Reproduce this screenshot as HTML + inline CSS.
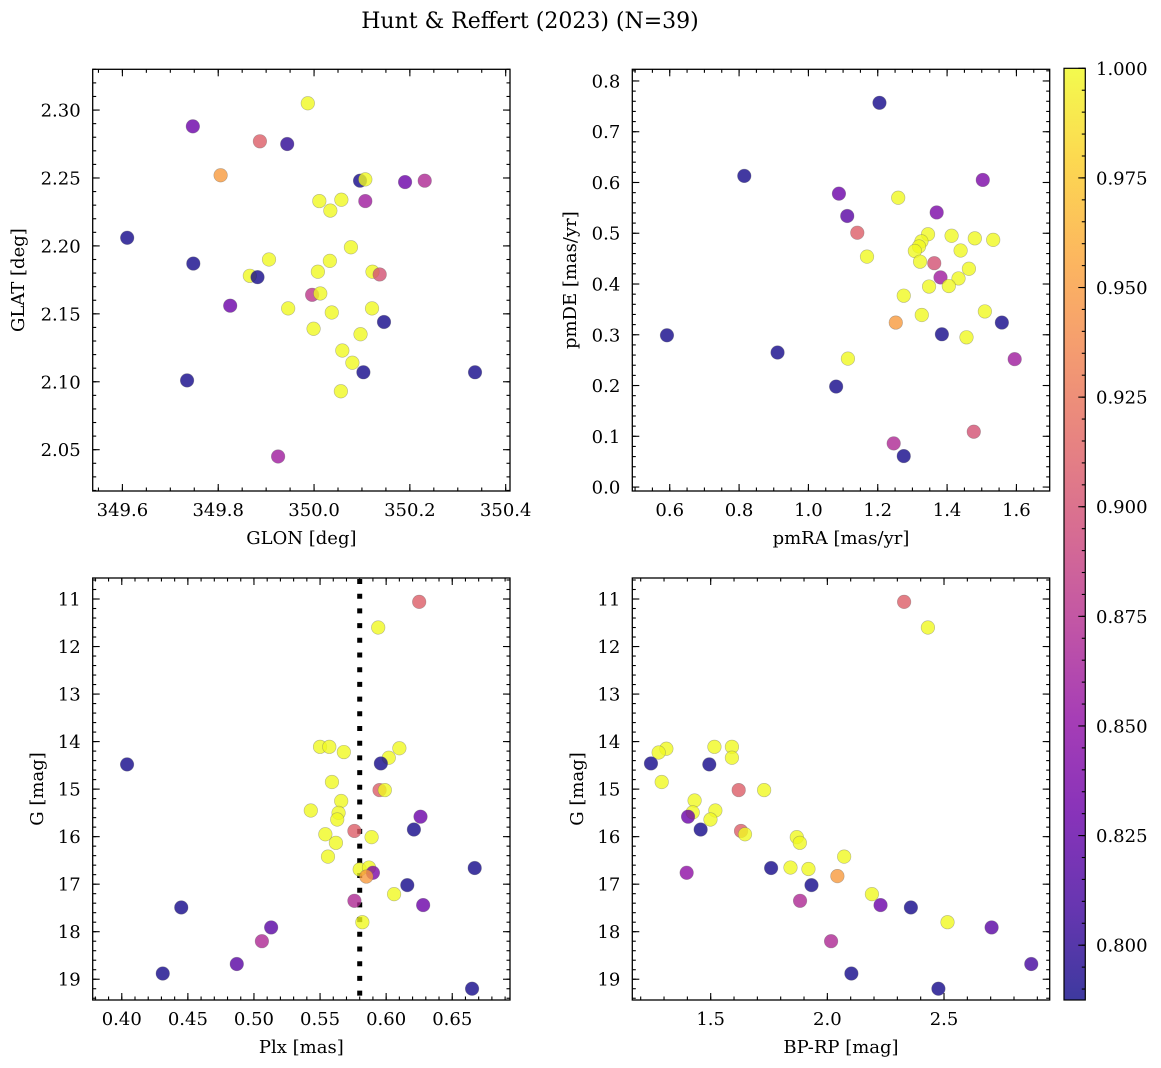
<!DOCTYPE html>
<html><head><meta charset="utf-8"><style>
html,body{margin:0;padding:0;background:#fff;}
svg{display:block;font-family:"DejaVu Serif","Liberation Serif",serif;}
</style></head><body>
<svg id="fig" width="1161" height="1068" viewBox="0 0 1161 1068" xmlns="http://www.w3.org/2000/svg">
<defs>
<linearGradient id="plasmaGrad" x1="0" y1="1" x2="0" y2="0">
<stop offset="0" stop-color="#0d0887"/><stop offset="0.1" stop-color="#41049d"/><stop offset="0.2" stop-color="#6a00a8"/><stop offset="0.3" stop-color="#8f0da4"/><stop offset="0.4" stop-color="#b12a90"/><stop offset="0.5" stop-color="#cc4778"/><stop offset="0.6" stop-color="#e16462"/><stop offset="0.7" stop-color="#f2844b"/><stop offset="0.8" stop-color="#fca636"/><stop offset="0.9" stop-color="#fcce25"/><stop offset="1" stop-color="#f0f921"/>
</linearGradient>
</defs>
<text x="530" y="28" font-size="22" text-anchor="middle">Hunt &amp; Reffert (2023) (N=39)</text>
</svg>
<script>
// ---- data ----
const glon = [349.747,349.887,349.944,349.805,349.987,350.096,350.107,350.190,350.231,350.107,350.011,350.057,350.034,349.610,349.748,350.077,349.906,349.866,349.882,350.033,350.008,350.122,350.137,349.825,349.996,350.013,349.946,350.037,350.121,350.146,349.999,350.097,350.059,350.080,350.056,350.103,349.735,350.336,349.925];
const glat = [2.288,2.277,2.275,2.252,2.305,2.248,2.249,2.247,2.248,2.233,2.233,2.234,2.226,2.206,2.187,2.199,2.190,2.178,2.177,2.189,2.181,2.181,2.179,2.156,2.164,2.165,2.154,2.151,2.154,2.144,2.139,2.135,2.123,2.114,2.093,2.107,2.101,2.107,2.045];
const probA = [0.83,0.91,0.80,0.95,1,0.79,1,0.83,0.87,0.86,1,1,1,0.79,0.79,1,1,1,0.79,1,1,1,0.90,0.83,0.88,1,1,1,1,0.79,1,1,1,1,1,0.79,0.79,0.79,0.86];

const pmra = [1.205,0.815,1.088,1.503,1.112,1.259,1.370,1.141,1.345,1.413,1.480,1.533,1.326,1.319,1.307,1.439,1.169,1.322,1.363,1.463,1.381,1.433,1.348,1.405,1.275,1.509,1.327,1.558,1.252,1.385,0.592,1.456,0.911,1.114,1.595,1.080,1.477,1.246,1.275];
const pmde = [0.757,0.613,0.578,0.605,0.534,0.570,0.541,0.501,0.498,0.495,0.490,0.487,0.484,0.474,0.465,0.466,0.454,0.444,0.441,0.430,0.413,0.411,0.395,0.396,0.377,0.346,0.339,0.324,0.324,0.301,0.299,0.295,0.265,0.253,0.252,0.198,0.109,0.086,0.061];
const probB = [0.79,0.79,0.83,0.84,0.82,1,0.84,0.91,1,1,1,1,1,1,1,1,1,1,0.90,1,0.86,1,1,1,1,1,1,0.79,0.95,0.79,0.79,1,0.79,1,0.86,0.79,0.90,0.87,0.79];

const plx = [0.625,0.594,0.550,0.557,0.568,0.610,0.602,0.404,0.596,0.559,0.595,0.599,0.566,0.543,0.564,0.563,0.626,0.554,0.576,0.621,0.589,0.562,0.556,0.667,0.580,0.587,0.590,0.585,0.616,0.606,0.576,0.628,0.445,0.582,0.513,0.506,0.487,0.431,0.665];
const gmag = [11.06,11.60,14.11,14.11,14.22,14.14,14.34,14.48,14.46,14.85,15.02,15.02,15.25,15.45,15.50,15.64,15.58,15.95,15.88,15.85,16.01,16.13,16.42,16.66,16.69,16.65,16.76,16.84,17.02,17.21,17.35,17.44,17.49,17.80,17.91,18.20,18.68,18.88,19.20];
const probC = [0.91,1,1,1,1,1,1,0.79,0.79,1,0.91,1,1,1,1,1,0.83,1,0.91,0.79,1,1,1,0.79,1,1,0.84,0.95,0.79,1,0.87,0.83,0.79,1,0.82,0.87,0.82,0.79,0.79];

const bprp = [2.329,2.431,1.310,1.277,1.516,1.591,1.591,1.244,1.494,1.290,1.620,1.729,1.431,1.520,1.423,1.403,1.499,1.457,1.630,1.647,1.869,1.882,2.072,1.759,1.842,1.919,1.397,2.043,1.932,2.191,1.883,2.228,2.358,2.515,2.704,2.016,2.874,2.103,2.476];
const gmag4 = [11.06,11.60,14.15,14.23,14.11,14.11,14.34,14.46,14.48,14.85,15.02,15.02,15.24,15.45,15.49,15.58,15.64,15.85,15.88,15.95,16.01,16.13,16.42,16.66,16.65,16.68,16.76,16.83,17.02,17.21,17.35,17.44,17.49,17.80,17.91,18.20,18.68,18.88,19.20];
const probD = [0.91,1,1,1,1,1,1,0.79,0.79,1,0.91,1,1,1,1,0.83,1,0.79,0.91,1,1,1,1,0.79,1,1,0.85,0.95,0.79,1,0.87,0.83,0.79,1,0.82,0.87,0.81,0.79,0.79];

const plxRef = [0.580];

const p1XTicks = [349.6,349.8,350.0,350.2,350.4];
const p1XLabels = ["349.6","349.8","350.0","350.2","350.4"];
const p1YTicks = [2.05,2.10,2.15,2.20,2.25,2.30];
const p1YLabels = ["2.05","2.10","2.15","2.20","2.25","2.30"];
const p2XTicks = [0.6,0.8,1.0,1.2,1.4,1.6];
const p2XLabels = ["0.6","0.8","1.0","1.2","1.4","1.6"];
const p2YTicks = [0.0,0.1,0.2,0.3,0.4,0.5,0.6,0.7,0.8];
const p2YLabels = ["0.0","0.1","0.2","0.3","0.4","0.5","0.6","0.7","0.8"];
const p3XTicks = [0.40,0.45,0.50,0.55,0.60,0.65];
const p3XLabels = ["0.40","0.45","0.50","0.55","0.60","0.65"];
const gTicks = [11,12,13,14,15,16,17,18,19];
const gLabels = ["11","12","13","14","15","16","17","18","19"];
const p4XTicks = [1.5,2.0,2.5];
const p4XLabels = ["1.5","2.0","2.5"];
const cbTicks = [0.800,0.825,0.850,0.875,0.900,0.925,0.950,0.975,1.000];
const cbLabels = ["0.800","0.825","0.850","0.875","0.900","0.925","0.950","0.975","1.000"];

// ---- rendering ----
const NS = "http://www.w3.org/2000/svg";
const svg = document.getElementById("fig");
function mk(tag, attrs, parent){ const e=document.createElementNS(NS,tag); for(const k in attrs) e.setAttribute(k,attrs[k]); (parent||svg).appendChild(e); return e; }

const plasma = ["#0d0887","#41049d","#6a00a8","#8f0da4","#b12a90","#cc4778","#e16462","#f2844b","#fca636","#fcce25","#f0f921"];
const VMIN = 0.7875, VMAX = 1.0;
function hex(h){return [parseInt(h.substr(1,2),16),parseInt(h.substr(3,2),16),parseInt(h.substr(5,2),16)];}
function cmap(v){
  let t=(v-VMIN)/(VMAX-VMIN); t=Math.max(0,Math.min(1,t));
  const f=t*10, i=Math.min(9,Math.floor(f)), r=f-i;
  const a=hex(plasma[i]), b=hex(plasma[i+1]);
  return "rgb("+a.map((c,k)=>Math.round(c+(b[k]-c)*r)).join(",")+")";
}

function panel(cfg){
  const g = mk("g",{});
  
  
  const sx = v => cfg.x0 + (v-cfg.xd[0])/(cfg.xd[1]-cfg.xd[0])*(cfg.x1-cfg.x0);
  const sy = cfg.yInv
    ? v => cfg.y0 + (v-cfg.yd[0])/(cfg.yd[1]-cfg.yd[0])*(cfg.y1-cfg.y0)
    : v => cfg.y1 - (v-cfg.yd[0])/(cfg.yd[1]-cfg.yd[0])*(cfg.y1-cfg.y0);
  const tk = mk("g",{stroke:"#000","stroke-width":"1.1"},g);
  
  
  const lo=Math.min(cfg.xd[0],cfg.xd[1]), hi=Math.max(cfg.xd[0],cfg.xd[1]);
  for(let k=Math.ceil(lo/cfg.xm-1e-9);k*cfg.xm<=hi+1e-9;k++){const X=sx(k*cfg.xm);
    mk("line",{x1:X,x2:X,y1:cfg.y1,y2:cfg.y1-3.5},tk); mk("line",{x1:X,x2:X,y1:cfg.y0,y2:cfg.y0+3.5},tk);}
  const ylo=Math.min(cfg.yd[0],cfg.yd[1]), yhi=Math.max(cfg.yd[0],cfg.yd[1]);
  for(let k=Math.ceil(ylo/cfg.ym-1e-9);k*cfg.ym<=yhi+1e-9;k++){const Y=sy(k*cfg.ym);
    mk("line",{x1:cfg.x0,x2:cfg.x0+3.5,y1:Y,y2:Y},tk); mk("line",{x1:cfg.x1,x2:cfg.x1-3.5,y1:Y,y2:Y},tk);}
  cfg.xt.forEach((v,i)=>{const X=sx(v);
    mk("line",{x1:X,x2:X,y1:cfg.y1,y2:cfg.y1-7},tk); mk("line",{x1:X,x2:X,y1:cfg.y0,y2:cfg.y0+7},tk);
    const t=mk("text",{x:X,y:cfg.y1+25,"font-size":"18","text-anchor":"middle"},g); t.textContent=cfg.xl[i];
    
    
  });
  cfg.yt.forEach((v,i)=>{const Y=sy(v);
    mk("line",{x1:cfg.x0,x2:cfg.x0+7,y1:Y,y2:Y},tk); mk("line",{x1:cfg.x1,x2:cfg.x1-7,y1:Y,y2:Y},tk);
    const t=mk("text",{x:cfg.x0-12,y:Y+6.5,"font-size":"18","text-anchor":"end"},g); t.textContent=cfg.yl[i];
    
    
  });
  if(cfg.vline){ cfg.vline.forEach(v=>{const X=sx(v);
    const l=mk("line",{x1:X,x2:X,y1:cfg.y0+1,y2:cfg.y1,stroke:"#000","stroke-width":"5","stroke-dasharray":"5 9.7"},g);
    
    
  });}
  const pts = mk("g",{},g);
  
  
  cfg.xs.forEach((v,i)=>{
    const c=mk("circle",{cx:sx(v),cy:sy(cfg.ys[i]),r:6.8,fill:cmap(cfg.cs[i]),"fill-opacity":"0.8",stroke:"#666","stroke-opacity":"0.45","stroke-width":"0.6"},pts);
    
    
  });
  const fr=mk("rect",{x:cfg.x0,y:cfg.y0,width:cfg.x1-cfg.x0,height:cfg.y1-cfg.y0,fill:"none",stroke:"#000","stroke-width":"1.3"},g);
  
  
  const xlab=mk("text",{x:(cfg.x0+cfg.x1)/2,y:cfg.y1+53,"font-size":"18","text-anchor":"middle"},g); xlab.textContent=cfg.xlabel;
  
  
  const cy=(cfg.y0+cfg.y1)/2;
  const ylab=mk("text",{x:cfg.ylx,y:cy,"font-size":"18","text-anchor":"middle",transform:"rotate(-90 "+cfg.ylx+" "+cy+")"},g); ylab.textContent=cfg.ylabel;
  
  
}

panel({name:"glon-glat-panel",x0:92.7,x1:510,y0:69.3,y1:491,xd:[349.538,350.409],yd:[2.0196,2.330],
  xt:p1XTicks,xl:p1XLabels,yt:p1YTicks,yl:p1YLabels,xm:0.05,ym:0.01,xs:glon,ys:glat,cs:probA,
  xlabel:"GLON [deg]",ylabel:"GLAT [deg]",ylx:24});
panel({name:"proper-motion-panel",x0:632.3,x1:1049.7,y0:69.3,y1:491,xd:[0.492,1.696],yd:[-0.0078,0.823],
  xt:p2XTicks,xl:p2XLabels,yt:p2YTicks,yl:p2YLabels,xm:0.05,ym:0.02,xs:pmra,ys:pmde,cs:probB,
  xlabel:"pmRA [mas/yr]",ylabel:"pmDE [mas/yr]",ylx:576});
panel({name:"parallax-mag-panel",x0:92.7,x1:510,y0:578,y1:1000,xd:[0.378,0.6937],yd:[10.558,19.437],yInv:true,
  xt:p3XTicks,xl:p3XLabels,yt:gTicks,yl:gLabels,xm:0.01,ym:0.2,xs:plx,ys:gmag,cs:probC,vline:plxRef,
  xlabel:"Plx [mas]",ylabel:"G [mag]",ylx:43});
panel({name:"cmd-panel",x0:632.3,x1:1049.7,y0:578,y1:1000,xd:[1.164,2.953],yd:[10.558,19.437],yInv:true,
  xt:p4XTicks,xl:p4XLabels,yt:gTicks,yl:gLabels,xm:0.1,ym:0.2,xs:bprp,ys:gmag4,cs:probD,
  xlabel:"BP-RP [mag]",ylabel:"G [mag]",ylx:583});

(function(){
  const x0=1064,x1=1085.3,y0=68.3,y1=1000;
  const sy=v=>y1-(v-VMIN)/(VMAX-VMIN)*(y1-y0);
  const g=mk("g",{});
  
  
  const r=mk("rect",{x:x0,y:y0,width:x1-x0,height:y1-y0,fill:"url(#plasmaGrad)","fill-opacity":"0.8"},g);
  
  
  mk("rect",{x:x0,y:y0,width:x1-x0,height:y1-y0,fill:"none",stroke:"#000","stroke-width":"1.2"},g);
  for(let k=Math.ceil(VMIN/0.005-1e-9);k*0.005<=VMAX+1e-9;k++){const Y=sy(k*0.005);
    mk("line",{x1:x1,x2:x1-3.5,y1:Y,y2:Y,stroke:"#000","stroke-width":"1.1"},g);}
  cbTicks.forEach((v,i)=>{const Y=sy(v);
    mk("line",{x1:x1,x2:x1-7,y1:Y,y2:Y,stroke:"#000","stroke-width":"1.1"},g);
    const t=mk("text",{x:1096,y:Y+6.5,"font-size":"18"},g); t.textContent=cbLabels[i];
    
    
  });
})();
</script>
</body></html>
